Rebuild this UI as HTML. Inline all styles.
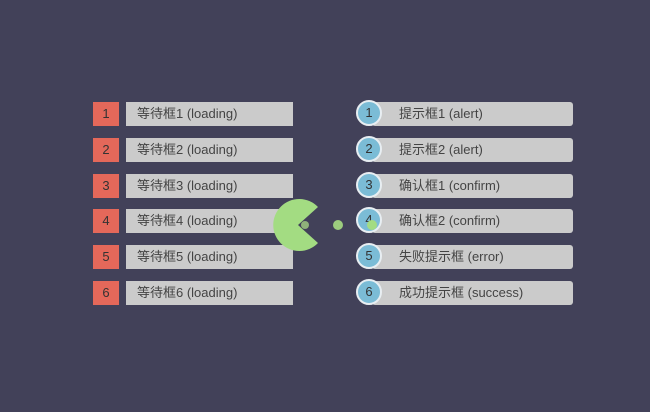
<!DOCTYPE html><html><head><style>
body{margin:0;width:650px;height:412px;background:#424159;position:relative;overflow:hidden;font-family:"Liberation Sans","Noto Sans CJK SC",sans-serif;font-size:13px;color:#444}
.n{position:absolute;left:93px;width:26px;height:24px;background:#e4685a;color:#333;text-align:center;line-height:24px}
.l{position:absolute;left:126px;width:167px;height:24px;background:#cbcbcb;line-height:24px;padding-left:11px;box-sizing:border-box}
.r{position:absolute;left:372px;width:201px;height:24px;background:#cbcbcb;line-height:24px;padding-left:27px;box-sizing:border-box;border-radius:3px}
.c{position:absolute;left:356px;width:22px;height:22px;border:2px solid #e8eef2;border-radius:50%;background:#7bbcd6;color:#333;text-align:center;line-height:22px}
</style></head><body>
<div class="n" style="top:102px">1</div><div class="l" style="top:102px">等待框1 (loading)</div>
<div class="n" style="top:138px">2</div><div class="l" style="top:138px">等待框2 (loading)</div>
<div class="n" style="top:174px">3</div><div class="l" style="top:174px">等待框3 (loading)</div>
<div class="n" style="top:209px">4</div><div class="l" style="top:209px">等待框4 (loading)</div>
<div class="n" style="top:245px">5</div><div class="l" style="top:245px">等待框5 (loading)</div>
<div class="n" style="top:281px">6</div><div class="l" style="top:281px">等待框6 (loading)</div>
<div class="r" style="top:102px">提示框1 (alert)</div><div class="c" style="top:100px">1</div>
<div class="r" style="top:138px">提示框2 (alert)</div><div class="c" style="top:136px">2</div>
<div class="r" style="top:174px">确认框1 (confirm)</div><div class="c" style="top:172px">3</div>
<div class="r" style="top:209px">确认框2 (confirm)</div><div class="c" style="top:207px">4</div>
<div class="r" style="top:245px">失败提示框 (error)</div><div class="c" style="top:243px">5</div>
<div class="r" style="top:281px">成功提示框 (success)</div><div class="c" style="top:279px">6</div>
<svg style="position:absolute;left:0;top:0" width="650" height="412">
<path d="M298 225 L318 207 A26 26 0 1 0 318 243 Z" fill="#a3dc82"/>
<circle cx="305" cy="225" r="4" fill="#8fb27a"/>
<circle cx="338" cy="225" r="5" fill="#9ccc7e"/>
<circle cx="372" cy="225" r="5" fill="#a3dc82"/>
</svg>
</body></html>
